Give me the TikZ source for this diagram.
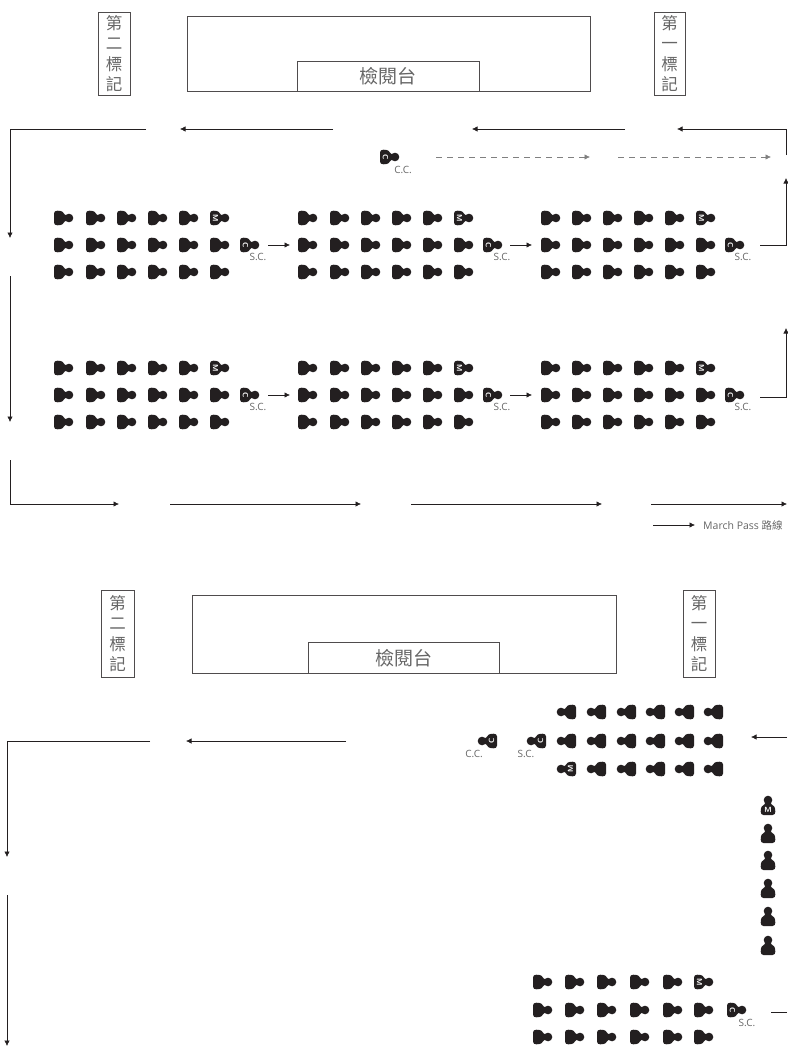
\documentclass[tikz,border=0pt]{standalone}
\usepackage{fontspec}
\setmainfont{Open Sans}
\newfontfamily\cjk{Noto Sans CJK TC}
\usetikzlibrary{arrows.meta}
\definecolor{ink}{HTML}{231F20}
\definecolor{txt}{HTML}{666666}
\tikzset{
  route/.style={draw=ink,line width=0.7pt,-{Latex[length=5.5pt,width=5.5pt]}},
  plainroute/.style={draw=ink,line width=0.7pt},
  dashroute/.style={route,draw=gray,dash pattern=on 5.5pt off 5.5pt},
  stand/.style={draw=ink!80,line width=0.5pt,inner sep=0pt,anchor=north west},
  standlabel/.style={font=\cjk\fontsize{19}{19}\selectfont,text=txt},
  markbox/.style={draw=ink!80,line width=0.5pt,align=center,inner sep=0pt,font=\cjk\fontsize{16.5}{20.5}\selectfont,text=txt,anchor=center},
  caption/.style={font=\fontsize{10}{10}\selectfont,text=txt,inner sep=0pt},
}
% person: (x,y) = back edge centre of the body in the right-facing frame
\newcommand\psn[4]{%
 \begin{scope}[shift={(#1,#2)},rotate=#3]
  \fill[ink] (0,-4.5) .. controls (0,-6.6) and (1.5,-7.3) .. (3.5,-7.3)
     .. controls (7.5,-7.3) and (10,-6) .. (11,-3.2)
     -- (14,-3) -- (14,3) -- (11,3.2)
     .. controls (10,6) and (7.5,7.3) .. (3.5,7.3) .. controls (1.5,7.3) and (0,6.6) .. (0,4.5) -- cycle;
  \fill[ink] (15,0) circle (4.3);
  \if\relax\detokenize{#4}\relax\else
   \node[text=white,inner sep=0pt,rotate=#3-90,font=\sffamily\bfseries\fontsize{7.5}{7.5}\selectfont] at (5.5,0) {#4};
  \fi
 \end{scope}}
% block of 3x6 people, facing right, with M at the top of the last column
\newcommand\blockR[7]{%
 \foreach \px in {#1,#2,#3,#4,#5}{\psn{\px}{#7-27}{0}{}\psn{\px}{#7}{0}{}\psn{\px}{#7+27}{0}{}}
 \psn{#6}{#7-27}{0}{M}\psn{#6}{#7}{0}{}\psn{#6}{#7+27}{0}{}}
\begin{document}
\begin{tikzpicture}[x=1pt,y=-1pt]
\useasboundingbox (0,0) rectangle (787,1046);
\fill[white] (0,0) rectangle (787,1046);

% ---- upper plan ----
\node[stand,minimum width=403pt,minimum height=75pt] (standA) at (187,16) {};
\node[stand,minimum width=182pt,minimum height=30pt,standlabel] (dais1) at (297,61) {檢閱台};
\node[markbox,minimum width=32pt,minimum height=83pt] (m2a) at (114,53.5) {第\\二\\標\\記};
\node[markbox,minimum width=31pt,minimum height=83pt] (m1a) at (669.5,53.5) {第\\一\\標\\記};

\coordinate (a1) at (333,129); \coordinate (a2) at (180,129);
\coordinate (b1) at (625,129); \coordinate (b2) at (472,129);
\coordinate (c0) at (786,155); \coordinate (c1) at (786,129); \coordinate (c2) at (677,129);
\coordinate (d1) at (146,129); \coordinate (d2) at (10,129); \coordinate (d3) at (10,238);
\coordinate (e1) at (10,276); \coordinate (e2) at (10,422);
\coordinate (f1) at (10,460); \coordinate (f2) at (10,504); \coordinate (f3) at (119,504);
\coordinate (g1) at (170,504); \coordinate (g2) at (361,504);
\coordinate (h1) at (411,504); \coordinate (h2) at (602,504);
\coordinate (i1) at (651,504); \coordinate (i2) at (787,504);
\coordinate (j1) at (760,245); \coordinate (j2) at (786,245); \coordinate (j3) at (786,178);
\coordinate (k1) at (760,397); \coordinate (k2) at (786,397); \coordinate (k3) at (786,328);
\coordinate (l1) at (436,157); \coordinate (l2) at (590,157);
\coordinate (n1) at (618,157); \coordinate (n2) at (771,157);
\coordinate (o1) at (653,525); \coordinate (o2) at (695,525);
\draw[route] (a1) -- (a2);
\draw[route] (b1) -- (b2);
\draw[route] (c0) -- (c1) -- (c2);
\draw[route] (d1) -- (d2) -- (d3);
\draw[route] (e1) -- (e2);
\draw[route] (f1) -- (f2) -- (f3);
\draw[route] (g1) -- (g2);
\draw[route] (h1) -- (h2);
\draw[route] (i1) -- (i2);
\draw[route] (j1) -- (j2) -- (j3);
\draw[route] (k1) -- (k2) -- (k3);
\draw[dashroute] (l1) -- (l2);
\draw[dashroute] (n1) -- (n2);
\draw[route] (o1) -- (o2);
\node[anchor=west,inner sep=0pt,font=\fontsize{10.5}{12}\selectfont,text=txt] (legend) at (703,525) {March Pass {\cjk 路線}};

\foreach \yy/\nn in {245/p,395/q}{
 \blockR{54}{86}{117}{148}{179}{210}{\yy}
 \blockR{298}{330}{361}{392}{423}{454}{\yy}
 \blockR{541}{572}{603}{634}{665}{696}{\yy}
 \psn{240}{\yy}{0}{C}\psn{483}{\yy}{0}{C}\psn{725}{\yy}{0}{C}
 \node[caption] (\nn sc1) at (258,\yy+12) {S.C.};
 \node[caption] (\nn sc2) at (502,\yy+12) {S.C.};
 \node[caption] (\nn sc3) at (743,\yy+12) {S.C.};
 \coordinate (\nn a1) at (268,\yy); \coordinate (\nn a2) at (290,\yy);
 \coordinate (\nn b1) at (510,\yy); \coordinate (\nn b2) at (532,\yy);
 \draw[route] (\nn a1) -- (\nn a2);
 \draw[route] (\nn b1) -- (\nn b2);
}
\psn{380}{157}{0}{C}
\node[caption] (cc1) at (403,170) {C.C.};

% ---- lower plan ----
\node[stand,minimum width=424pt,minimum height=78pt] (standB) at (192,595) {};
\node[stand,minimum width=191pt,minimum height=31pt,standlabel] (dais2) at (308,642) {檢閱台};
\node[markbox,minimum width=33pt,minimum height=87pt] (m2b) at (117.5,633.5) {第\\二\\標\\記};
\node[markbox,minimum width=32pt,minimum height=87pt] (m1b) at (699,633.5) {第\\一\\標\\記};

\coordinate (r1) at (346,741); \coordinate (r2) at (186,741);
\coordinate (s1) at (150,741); \coordinate (s2) at (7,741); \coordinate (s3) at (7,857);
\coordinate (t1) at (7,895); \coordinate (t2) at (7,1046);
\coordinate (u1) at (787,737); \coordinate (u2) at (751,737);
\coordinate (v1) at (787,1012); \coordinate (v2) at (771,1012);
\draw[route] (r1) -- (r2);
\draw[route] (s1) -- (s2) -- (s3);
\draw[route] (t1) -- (t2);
\draw[route] (u1) -- (u2);
\draw[plainroute] (v1) -- (v2);

% left-facing block
\foreach \px in {576,606,636,665,694,723}{
 \psn{\px}{741}{180}{}\psn{\px}{712}{180}{}}
\foreach \px in {606,636,665,694,723}{\psn{\px}{769}{180}{}}
\psn{576}{769}{180}{M}
\psn{497}{741}{180}{C}
\psn{546}{741}{180}{C}
\node[caption] (cc2) at (474,754) {C.C.};
\node[caption] (sc4) at (526,754) {S.C.};

% column marching
\psn{768}{815}{90}{M}
\foreach \yy in {843,870,898,926,955}{\psn{768}{\yy}{90}{}}

% lower block facing right
\foreach \px in {533,565,597,630,663}{\psn{\px}{982}{0}{}\psn{\px}{1010}{0}{}\psn{\px}{1037}{0}{}}
\psn{694}{982}{0}{M}\psn{694}{1010}{0}{}\psn{694}{1037}{0}{}
\psn{727}{1010}{0}{C}
\node[caption] (sc5) at (747,1023) {S.C.};
\end{tikzpicture}
\end{document}
